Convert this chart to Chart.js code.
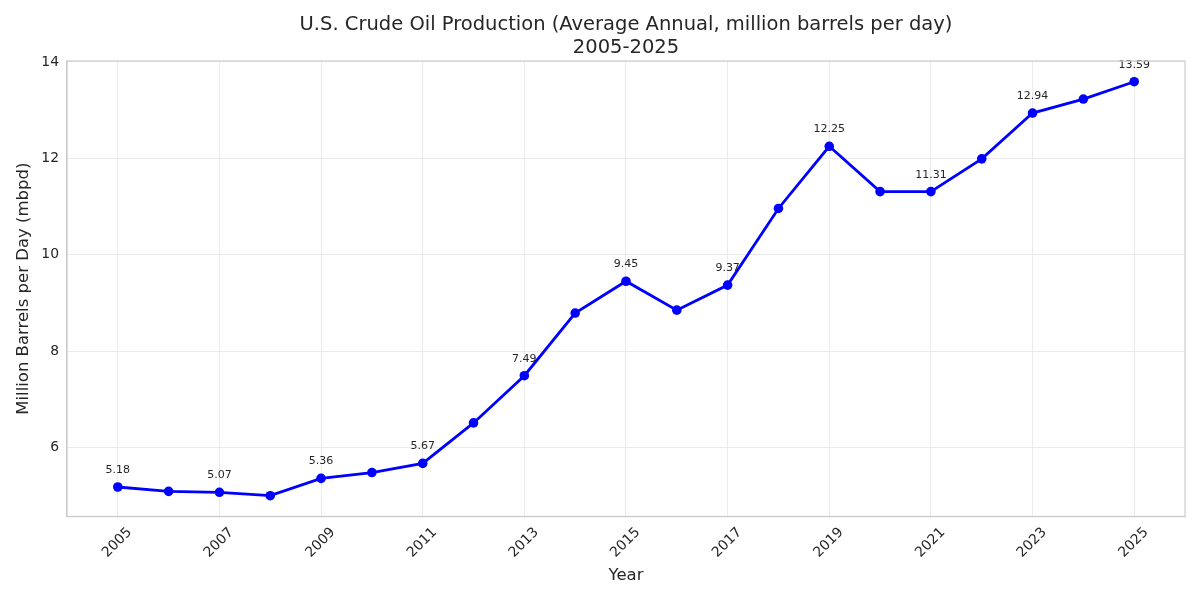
<!doctype html>
<html>
<head>
<title>U.S. Crude Oil Production</title>
	<script src="https://cdn.jsdelivr.net/npm/chart.js@4/dist/chart.umd.min.js"></script>
	<style>
		html, body { margin: 0; padding: 0; background: #fff; }
		#wrap { width: 1200px; height: 600px; }
	</style>
</head>

<body>
	<div id="wrap">
		<canvas id="canvas" width="1200" height="600"></canvas>
	</div>
	<script>
		// chart data
		var years = [2005, 2006, 2007, 2008, 2009, 2010, 2011, 2012, 2013, 2014, 2015,
			2016, 2017, 2018, 2019, 2020, 2021, 2022, 2023, 2024, 2025];
		var production = [5.18, 5.09, 5.07, 5.00, 5.36, 5.48, 5.67, 6.51, 7.49, 8.79, 9.45,
			8.85, 9.37, 10.96, 12.25, 11.31, 11.31, 11.99, 12.94, 13.23, 13.59];
		var labelledYears = [2005, 2007, 2009, 2011, 2013, 2015, 2017, 2019, 2021, 2023, 2025];
		var xTicks = [2005, 2007, 2009, 2011, 2013, 2015, 2017, 2019, 2021, 2023, 2025];
		var yTicks = [6, 8, 10, 12, 14];
		var titleLines = ['U.S. Crude Oil Production (Average Annual, million barrels per day)', '2005-2025'];

		var textColor = '#262626';
		var fontFamily = '"DejaVu Sans", sans-serif';

		// value labels above every other point
		var pointLabels = {
			id: 'pointLabels',
			afterDatasetsDraw: function(chart) {
				var ctx = chart.ctx;
				var meta = chart.getDatasetMeta(0);
				ctx.save();
				ctx.font = '11px ' + fontFamily;
				ctx.fillStyle = textColor;
				ctx.textAlign = 'center';
				ctx.textBaseline = 'alphabetic';
				meta.data.forEach(function(pt, i) {
					if (labelledYears.indexOf(years[i]) === -1) return;
					ctx.fillText(production[i].toFixed(2), pt.x, pt.y - 14);
				});
				ctx.restore();
			}
		};

		// title centred over the plot area (matplotlib style), plus axes frame
		var decorations = {
			id: 'decorations',
			afterDraw: function(chart) {
				var a = chart.chartArea;
				var ctx = chart.ctx;
				ctx.save();
				ctx.strokeStyle = '#cccccc';
				ctx.lineWidth = 1.2;
				ctx.strokeRect(a.left, a.top, a.right - a.left, a.bottom - a.top);
				ctx.font = '19.5px ' + fontFamily;
				ctx.fillStyle = textColor;
				ctx.textAlign = 'center';
				ctx.textBaseline = 'alphabetic';
				var cx = (a.left + a.right) / 2;
				ctx.fillText(titleLines[0], cx, 30);
				ctx.fillText(titleLines[1], cx, 52.5);
				ctx.restore();
			}
		};

		var points = years.map(function(y, i) {
			return { x: y, y: production[i] };
		});

		var config = {
			type: 'line',
			data: {
				datasets: [{
					label: 'Production',
					data: points,
					borderColor: '#0000ff',
					backgroundColor: '#0000ff',
					borderWidth: 2.8,
					pointRadius: 4.8,
					pointHoverRadius: 4.8,
					pointBorderWidth: 0,
					fill: false,
					tension: 0
				}]
			},
			options: {
				responsive: false,
				animation: false,
				layout: {
					padding: { left: 8, right: 15, top: 61, bottom: 14 }
				},
				plugins: {
					legend: { display: false },
					tooltip: { enabled: false },
					title: { display: false }
				},
				scales: {
					x: {
						type: 'linear',
						min: 2004,
						max: 2026,
						afterBuildTicks: function(scale) {
							scale.ticks = xTicks.map(function(v) { return { value: v }; });
						},
						ticks: {
							color: textColor,
							font: { family: fontFamily, size: 13.9 },
							minRotation: 45,
							maxRotation: 45,
							labelOffset: 12,
							padding: 8,
							callback: function(v) { return String(v); }
						},
						grid: { color: '#ebebeb', drawTicks: false, lineWidth: 1 },
						border: { display: true, color: '#cccccc', width: 1.2 },
						title: {
							display: true,
							text: 'Year',
							color: textColor,
							font: { family: fontFamily, size: 16.5 },
							padding: { top: -3, bottom: 0 }
						}
					},
					y: {
						min: 4.57,
						max: 14.02,
						afterBuildTicks: function(scale) {
							scale.ticks = yTicks.map(function(v) { return { value: v }; });
						},
						ticks: {
							color: textColor,
							font: { family: fontFamily, size: 13.9 },
							padding: 8,
							callback: function(v) { return String(v); }
						},
						grid: { color: '#ebebeb', drawTicks: false, lineWidth: 1 },
						border: { display: true, color: '#cccccc', width: 1.2 },
						title: {
							display: true,
							text: 'Million Barrels per Day (mbpd)',
							color: textColor,
							font: { family: fontFamily, size: 16.5 },
							padding: { top: 5.5, bottom: 0 }
						}
					}
				}
			},
			plugins: [pointLabels, decorations]
		};

		var ctx = document.getElementById('canvas').getContext('2d');
		window.myLine = new Chart(ctx, config);
	</script>
</body>

</html>
